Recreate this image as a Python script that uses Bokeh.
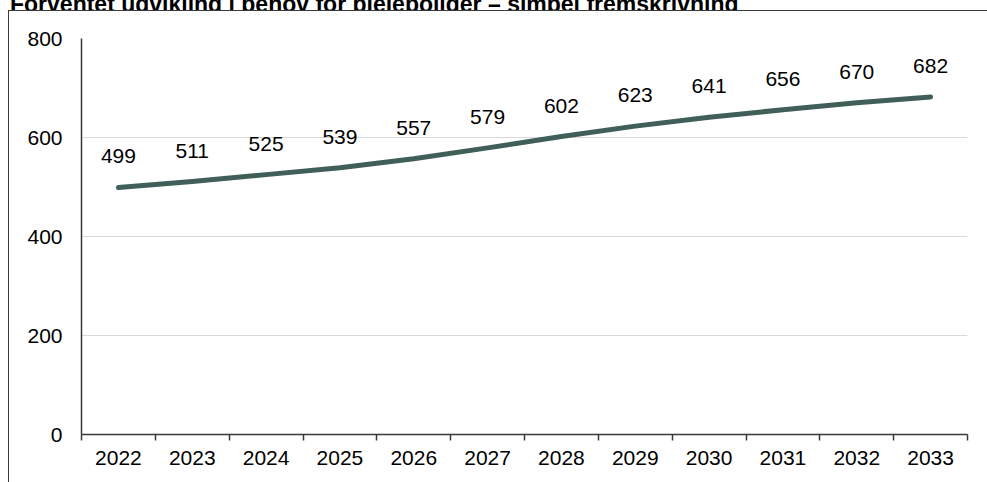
from bokeh.plotting import figure
from bokeh.models import FixedTicker, ColumnDataSource, Range1d, Div
from bokeh.layouts import column
from bokeh.core.properties import value
from bokeh.embed import file_html
from bokeh.resources import INLINE

title_text = "Forventet udvikling i behov for plejeboliger \u2013 simpel fremskrivning"
years = ["2022", "2023", "2024", "2025", "2026", "2027", "2028", "2029", "2030", "2031", "2032", "2033"]
values = [499, 511, 525, 539, 557, 579, 602, 623, 641, 656, 670, 682]
y_ticks = [0, 200, 400, 600, 800]

FONT = "Liberation Sans"
AXIS_COL = "#3a3a3a"
LINE_COL = "#3F5F58"

x_pos = [i + 0.5 for i in range(len(years))]
src = ColumnDataSource(dict(x=x_pos, y=values, label=[str(v) for v in values]))

# title strip: the original chart's title is cropped at the top edge
title_div = Div(
    text=("<div style=\"margin:-17px 0 0 10px;white-space:nowrap;font-family:'Liberation Sans';"
          "font-weight:bold;font-size:23px;line-height:28px;color:#000;\">" + title_text + "</div>"),
    width=979, height=10, margin=0,
    styles={"overflow": "hidden", "height": "10px"},
)

p = figure(output_backend="svg", toolbar_location=None,
           x_range=Range1d(0, len(years)), y_range=Range1d(0, 800),
           frame_width=886, frame_height=396,
           min_border_left=81, min_border_right=12, min_border_top=28, min_border_bottom=42)
p.outline_line_color = None
p.background_fill_color = "white"
p.border_fill_color = "white"

p.line("x", "y", source=src, line_color=LINE_COL, line_width=5,
       line_cap="round", line_join="round")
p.text("x", "y", text="label", source=src, text_align="center", text_baseline="middle",
       y_offset=-31, text_font=value(FONT), text_font_size="21px", text_color="#000000")

# x axis
p.xaxis.ticker = FixedTicker(ticks=x_pos, minor_ticks=list(range(len(years) + 1)))
p.xaxis.major_label_overrides = {x: y for x, y in zip(x_pos, years)}
p.xaxis.major_tick_out = 0
p.xaxis.major_tick_in = 0
p.xaxis.minor_tick_out = 6
p.xaxis.minor_tick_in = 0
p.xaxis.minor_tick_line_color = AXIS_COL
p.xaxis.minor_tick_line_width = 1.5
p.xaxis.axis_line_color = AXIS_COL
p.xaxis.axis_line_width = 1.5
p.xaxis.major_label_standoff = 10
p.xaxis.major_label_text_font = FONT
p.xaxis.major_label_text_font_size = "21px"
p.xaxis.major_label_text_color = "#000000"

# y axis
p.yaxis.ticker = FixedTicker(ticks=y_ticks, minor_ticks=[])
p.yaxis.major_tick_out = 0
p.yaxis.major_tick_in = 0
p.yaxis.minor_tick_line_color = None
p.yaxis.axis_line_color = AXIS_COL
p.yaxis.axis_line_width = 1.5
p.yaxis.major_label_standoff = 19
p.yaxis.major_label_text_font = FONT
p.yaxis.major_label_text_font_size = "21px"
p.yaxis.major_label_text_color = "#000000"

p.xgrid.visible = False
p.ygrid.ticker = FixedTicker(ticks=y_ticks[1:])
p.ygrid.grid_line_color = "#D9D9D9"
p.ygrid.grid_line_width = 1.2

# outer frame of the original chart (left and top edges visible)
p.stylesheets = [
    ":host::after{content:'';position:absolute;left:8px;top:0;width:2000px;height:2000px;"
    "border:none;border-left:1.5px solid #3a3a3a;border-top:1.5px solid #3a3a3a;"
    "background:transparent;pointer-events:none;}"
]

layout = column(title_div, p, spacing=0)

open("out.html", "w").write(file_html(layout, INLINE))
